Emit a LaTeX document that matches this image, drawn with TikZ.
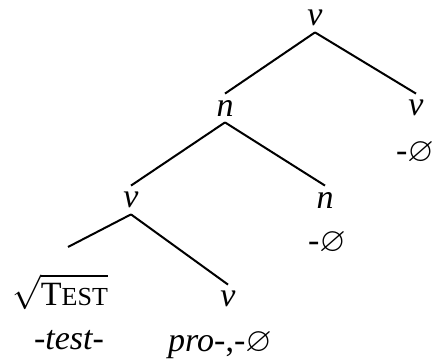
\documentclass[tikz,border=0pt]{standalone}
\usepackage{amssymb}
\usepackage{fontspec}
\setmainfont{Liberation Serif}
\usetikzlibrary{positioning}
\tikzset{lbl/.style={inner sep=0pt,minimum height=14pt,font=\fontsize{17}{20}\selectfont},branch/.style={line width=1pt,draw=black}}
\newcommand{\nul}{-$\varnothing$}
\newcommand{\rootsc}{T{\fontsize{13}{15}\selectfont EST}}

\begin{document}
\begin{tikzpicture}[x=0.5pt,y=-0.5pt]
\useasboundingbox (0,0) rectangle (434,362);
\node[lbl] (vtop) at(315,18){\textit{v}};
\node[lbl] (nM) at(225,108){\textit{n}};
\node[lbl] (vR) at(416,108){\textit{v}};
\node[lbl] (zR) at(415,153){\nul};
\node[lbl] (vL) at(131,200){\textit{v}};
\node[lbl] (nR) at(325,200){\textit{n}};
\node[lbl] (zN) at(327,243){\nul};
\node[lbl] (root) at(60,292){$\sqrt{\mbox{\rootsc}}$};
\node[lbl] (vB) at(228,299){\textit{v}};
\node[lbl] (test) at(69,340){\textit{-test-}};
\node[lbl] (pro) at(220,345){\textit{pro}-,\nul};
\coordinate (rootTop) at(68,247);
\draw[branch](vtop.south)--(nM.north);
\draw[branch](vtop.south)--(vR.north);
\draw[branch](nM.south)--(vL.north);
\draw[branch](nM.south)--(nR.north);
\draw[branch](vL.south)--(rootTop);
\draw[branch](vL.south)--(vB.north);
\end{tikzpicture}
\end{document}
